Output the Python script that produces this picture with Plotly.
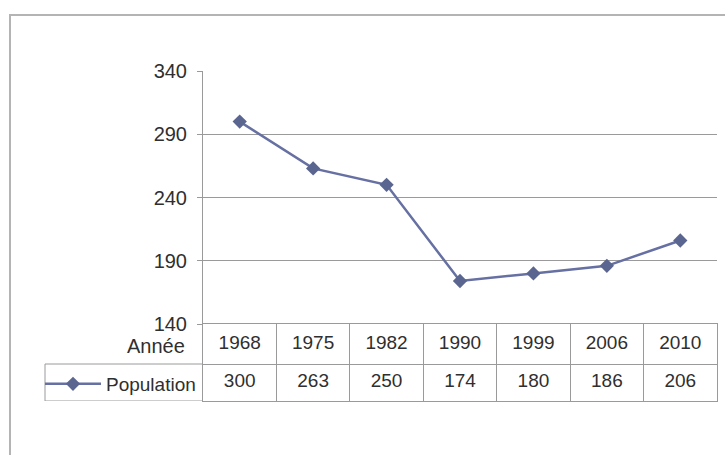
import plotly.graph_objects as go

years = ["1968", "1975", "1982", "1990", "1999", "2006", "2010"]
population = [300, 263, 250, 174, 180, 186, 206]
y_ticks = [140, 190, 240, 290, 340]
series_name = "Population"
row_label = "Année"

W, H = 725, 455
L, R, T, B = 203, 8, 71, 54
PW = W - L - R
PH = H - T - B
table_h = 401 - 324
split = table_h / PH
y2_top = 77 / 37

grid = "#9a9a9a"
txt = "#2f2f2f"
font = "Liberation Sans, Arial, sans-serif"


def px(xpix):
    return (xpix - L) / PW


def py(ypix):
    return (H - B - ypix) / PH


fig = go.Figure()
fig.add_trace(go.Scatter(
    x=years, y=population, name=series_name, mode="lines+markers",
    line=dict(color="#6670a2", width=2.5),
    marker=dict(symbol="diamond", size=11, color="#5a6690"),
    xaxis="x", yaxis="y", showlegend=True,
))
fig.add_trace(go.Scatter(
    x=years, y=[(y2_top + 1) / 2] * len(years), text=years, mode="text",
    textfont=dict(size=19, color=txt, family=font),
    xaxis="x2", yaxis="y2", showlegend=False, hoverinfo="skip",
))
fig.add_trace(go.Scatter(
    x=years, y=[0.5] * len(years), text=[str(v) for v in population], mode="text",
    textfont=dict(size=19, color=txt, family=font),
    xaxis="x2", yaxis="y2", showlegend=False, hoverinfo="skip",
))

fig.update_layout(
    width=W, height=H,
    margin=dict(l=L, r=R, t=T, b=B),
    paper_bgcolor="white", plot_bgcolor="white",
    font=dict(family=font, color=txt, size=19),
    xaxis=dict(domain=[0, 1], anchor="y", type="category", categoryorder="array",
               categoryarray=years, range=[-0.5, 6.5], showticklabels=False,
               showgrid=False, zeroline=False, showline=False, ticks=""),
    yaxis=dict(domain=[split, 1], anchor="x", range=[140, 340], tickvals=y_ticks,
               showgrid=True, gridcolor=grid, gridwidth=1, zeroline=False,
               showline=True, linecolor=grid, linewidth=1, ticks="outside",
               ticklen=5, tickcolor=grid, ticklabelstandoff=6,
               tickfont=dict(size=20, color=txt)),
    xaxis2=dict(domain=[0, 1], anchor="y2", matches="x", type="category",
                categoryorder="array", categoryarray=years, showticklabels=False,
                tickson="boundaries", showgrid=True, gridcolor=grid, gridwidth=1,
                ticks="", showline=True, mirror=True, linecolor=grid, linewidth=1,
                zeroline=False),
    yaxis2=dict(domain=[0, split], anchor="x2", range=[0, y2_top], tickvals=[1],
                showticklabels=False, showgrid=True, gridcolor=grid, gridwidth=1,
                ticks="", showline=True, mirror=True, linecolor=grid, linewidth=1,
                zeroline=False),
    showlegend=True,
    legend=dict(x=px(40), xanchor="left", y=py(384), yanchor="middle",
                bgcolor="rgba(0,0,0,0)", font=dict(size=19, color=txt),
                itemwidth=56, itemclick=False, itemdoubleclick=False),
    annotations=[dict(text=row_label, xref="paper", yref="y2", x=px(187),
                      y=(y2_top + 1) / 2 - 0.05, xanchor="right", yanchor="middle",
                      showarrow=False, font=dict(size=20, color=txt))],
    shapes=[
        dict(type="line", xref="paper", yref="y2", x0=px(45), x1=0, y0=1, y1=1,
             line=dict(color=grid, width=1)),
        dict(type="line", xref="paper", yref="y2", x0=px(45), x1=0, y0=0, y1=0,
             line=dict(color=grid, width=1)),
        dict(type="line", xref="paper", yref="y2", x0=px(45), x1=px(45), y0=0, y1=1,
             line=dict(color=grid, width=1)),
        dict(type="rect", xref="paper", yref="paper", x0=px(10), x1=px(760),
             y0=py(480), y1=py(15), line=dict(color="#b4b4b4", width=2),
             fillcolor="rgba(0,0,0,0)", layer="below"),
    ],
)

fig.write_html("out.html")
